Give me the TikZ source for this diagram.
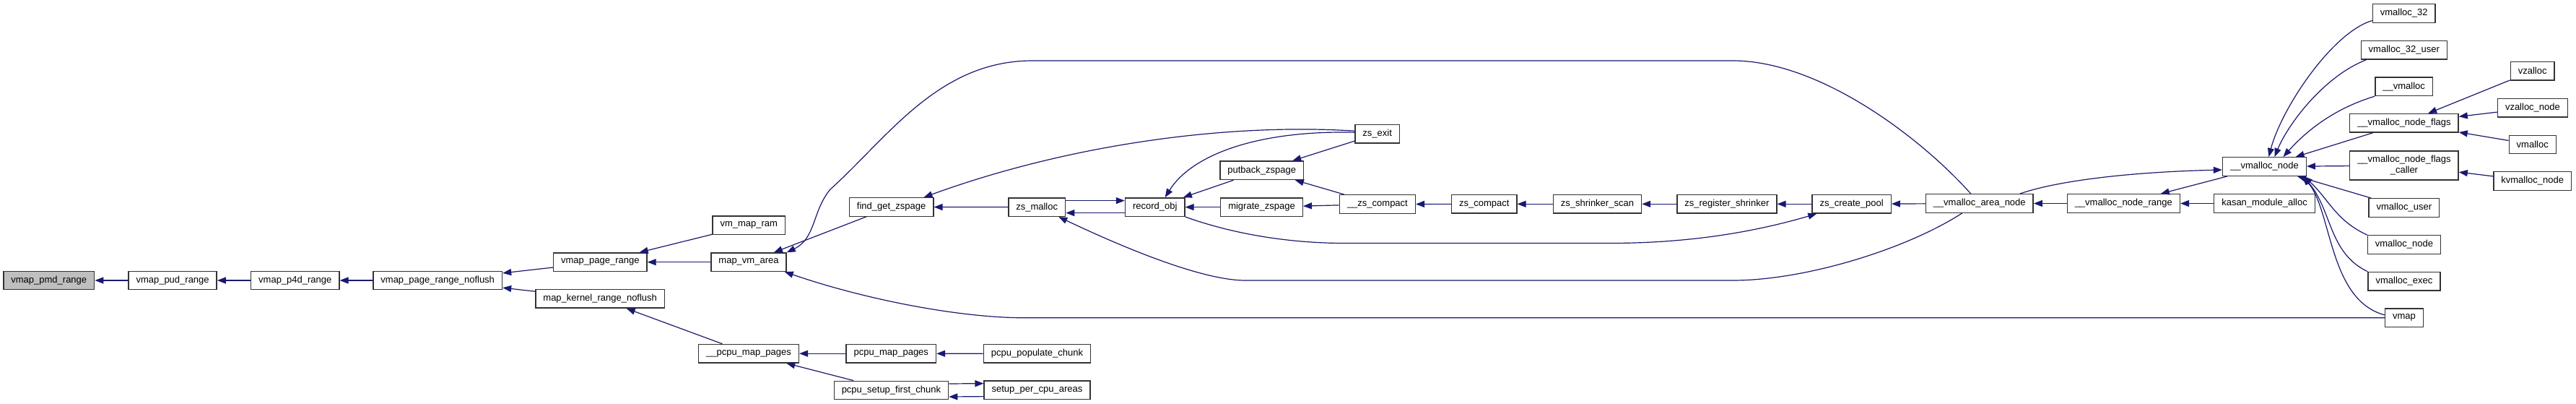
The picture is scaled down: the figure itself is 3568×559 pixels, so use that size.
\documentclass[tikz,border=0pt]{standalone}
\usepackage{fontspec}
\setmainfont{Liberation Sans}
\usepackage{tikz}
\usetikzlibrary{arrows.meta}
\definecolor{edgeblue}{RGB}{25,25,112}
\definecolor{rootgray}{RGB}{191,191,191}

\begin{document}
\begin{tikzpicture}[
  x=1pt, y=-1pt,
  every node/.style={font=\fontsize{13pt}{15pt}\selectfont},
  fn/.style={rectangle, draw=black!80, line width=1.4pt, fill=white,
             inner xsep=10.5pt, inner ysep=0pt, minimum height=25.5pt,
             align=center},
  root/.style={fn, fill=rootgray},
  ar/.style={-{Triangle[length=12pt,width=9pt]}, line width=1.2pt,
             draw=edgeblue}
]
\fill[white] (0,0) rectangle (3568,559);
\useasboundingbox (0,0) rectangle (3568,559);

\node[root] (pmd) at (67.8,388) {vmap\_pmd\_range};
\node[fn] (pud) at (239.1,388) {vmap\_pud\_range};
\node[fn] (p4d) at (408.8,388) {vmap\_p4d\_range};
\node[fn] (noflush) at (606.2,388) {vmap\_page\_range\_noflush};
\node[fn] (vpr) at (831.3,362.7) {vmap\_page\_range};
\node[fn] (mkrn) at (831.2,413.4) {map\_kernel\_range\_noflush};
\node[fn] (vmram) at (1037.3,311.7) {vm\_map\_ram};
\node[fn] (mva) at (1037,362.7) {map\_vm\_area};
\node[fn] (pcpumap) at (1037,489.2) {\_\_pcpu\_map\_pages};
\node[fn] (fgz) at (1234.6,286.5) {find\_get\_zspage};
\node[fn] (ppm) at (1234.3,489.2) {pcpu\_map\_pages};
\node[fn] (psfc) at (1234.4,540) {pcpu\_setup\_first\_chunk};
\node[fn] (zsm) at (1436.2,286.6) {zs\_malloc};
\node[fn] (ppc) at (1436.5,489.3) {pcpu\_populate\_chunk};
\node[fn] (spca) at (1436.5,539.6) {setup\_per\_cpu\_areas};
\node[fn] (robj) at (1599.7,286.6) {record\_obj};
\node[fn] (pbz) at (1747.7,235.8) {putback\_zspage};
\node[fn] (mgz) at (1747.5,286.6) {migrate\_zspage};
\node[fn] (zsexit) at (1907.7,185.2) {zs\_exit};
\node[fn] (uzsc) at (1907.9,282.5) {\_\_zs\_compact};
\node[fn] (zsc) at (2055.7,282.3) {zs\_compact};
\node[fn] (zsss) at (2212.4,282.3) {zs\_shrinker\_scan};
\node[fn] (zsrs) at (2391.8,282.3) {zs\_register\_shrinker};
\node[fn] (zscp) at (2564.6,282.3) {zs\_create\_pool};
\node[fn] (vman) at (2741.7,281.5) {\_\_vmalloc\_area\_node};
\node[fn] (vnr) at (2941.3,281.5) {\_\_vmalloc\_node\_range};
\node[fn] (kasan) at (3136.5,281.5) {kasan\_module\_alloc};
\node[fn] (vn) at (3136.4,230.5) {\_\_vmalloc\_node};
\node[fn] (v32) at (3329.7,18.5) {vmalloc\_32};
\node[fn] (v32u) at (3329.8,69.3) {vmalloc\_32\_user};
\node[fn] (uvm) at (3329.6,119.8) {\_\_vmalloc};
\node[fn] (vnf) at (3329.9,170.3) {\_\_vmalloc\_node\_flags};
\node[fn, minimum height=40pt] (vnfc) at (3329.9,229)
      {\_\_vmalloc\_node\_flags\\\_caller};
\node[fn] (vuser) at (3329.9,287.5) {vmalloc\_user};
\node[fn] (vnode) at (3329.9,338.5) {vmalloc\_node};
\node[fn] (vexec) at (3329.9,389.2) {vmalloc\_exec};
\node[fn] (vmap) at (3329.9,439.8) {vmap};
\node[fn] (vz) at (3507.7,98.3) {vzalloc};
\node[fn] (vzn) at (3507.9,149.3) {vzalloc\_node};
\node[fn] (vml) at (3507.7,200) {vmalloc};
\node[fn] (kvm) at (3507.7,250.5) {kvmalloc\_node};

\draw[ar] (pud) -- (pmd);
\draw[ar] (p4d) -- (pud);
\draw[ar] (noflush) -- (p4d);
\draw[ar] (vpr) -- (noflush);
\draw[ar] (mkrn) -- (noflush);
\draw[ar] (vmram) -- (vpr);
\draw[ar] (mva) -- (vpr);
\draw[ar] (pcpumap) -- (mkrn);
\draw[ar] (fgz) -- (mva);
\draw[ar] (ppm) -- (pcpumap);
\draw[ar] (psfc) -- (pcpumap);
\draw[ar] (ppc) -- (ppm);
\draw[ar] ([yshift=9pt]psfc.east) -- ([yshift=9pt]spca.west);
\draw[ar] ([yshift=-9pt]spca.west) -- ([yshift=-9pt]psfc.east);
\draw[ar] (zsm) -- (fgz);
\draw[ar] ([yshift=9pt]zsm.east) -- ([yshift=9pt]robj.west);
\draw[ar] ([yshift=-8pt]robj.west) -- ([yshift=-8pt]zsm.east);
\draw[ar] (pbz) -- (robj);
\draw[ar] (mgz) -- (robj);
\draw[ar] (zsexit) -- (pbz);
\draw[ar] (uzsc) -- (pbz);
\draw[ar] (uzsc) -- (mgz);
\draw[ar] (zsc) -- (uzsc);
\draw[ar] (zsss) -- (zsc);
\draw[ar] (zsrs) -- (zsss);
\draw[ar] (zscp) -- (zsrs);
\draw[ar] (vman) -- (zscp);
\draw[ar] (vnr) -- (vman);
\draw[ar] (vn) -- (vnr);
\draw[ar] (kasan) -- (vnr);
\draw[ar] (vnf) -- (vn);
\draw[ar] (vnfc) -- (vn);
\draw[ar] (vuser) -- (vn);
\draw[ar] (vz) -- (vnf);
\draw[ar] (vzn) -- (vnf);
\draw[ar] (vml) -- (vnf);
\draw[ar] (kvm) -- (vnfc);

\draw[ar] ([yshift=4pt]zsexit.west) .. controls (1700,170) and (1480,200)
          .. ([xshift=-14pt]fgz.north east);
\draw[ar] ([yshift=2pt]zsexit.west) .. controls (1740,180) and (1650,215)
          .. ([xshift=14pt]robj.north);
\draw[ar] (robj.south east) .. controls (1720,328) and (1800,336.5)
          .. (1862,336.5) -- (2230,336.5) .. controls (2350,336.5) and (2440,318)
          .. ([xshift=7pt]zscp.south west);
\draw[ar] ([xshift=-24pt]vman.south) .. controls (2640,345) and (2500,388)
          .. (2400,388) -- (1725,388) .. controls (1660,388) and (1540,335)
          .. ([xshift=-10pt]zsm.south east);
\draw[ar] (vmap.west) -- (1420,439.8) .. controls (1330,439.8) and (1200,415)
          .. ([xshift=-3pt]mva.south east);
\draw[ar] ([xshift=-12pt]vman.north) .. controls (2660,190) and (2520,84)
          .. (2400,84) -- (1430,84) .. controls (1300,84) and (1230,190)
          .. (1150,262) .. controls (1125,292) and (1130,330) .. (mva.north east);
\draw[ar] ([xshift=56pt]vman.north) .. controls (2850,250) and (2950,238)
          .. ([yshift=-4.5pt]vn.west);
\draw[ar] ([yshift=-10pt]v32.west) .. controls (3230,45) and (3160,150)
          .. ([xshift=6pt]vn.north);
\draw[ar] ([xshift=8pt]v32u.south west) .. controls (3220,105) and (3170,170)
          .. ([xshift=14pt]vn.north);
\draw[ar] (uvm.south west) .. controls (3240,148) and (3200,175)
          .. ([xshift=26pt]vn.north);
\draw[ar] (vnode.north west) .. controls (3235,305) and (3225,275)
          .. ([xshift=-4pt]vn.south east);
\draw[ar] (vexec.north west) .. controls (3225,350) and (3230,290)
          .. ([xshift=-5pt]vn.south east);
\draw[ar] ([yshift=4pt]vmap.west) .. controls (3225,415) and (3230,290)
          .. ([xshift=-6pt]vn.south east);
\end{tikzpicture}
\end{document}
